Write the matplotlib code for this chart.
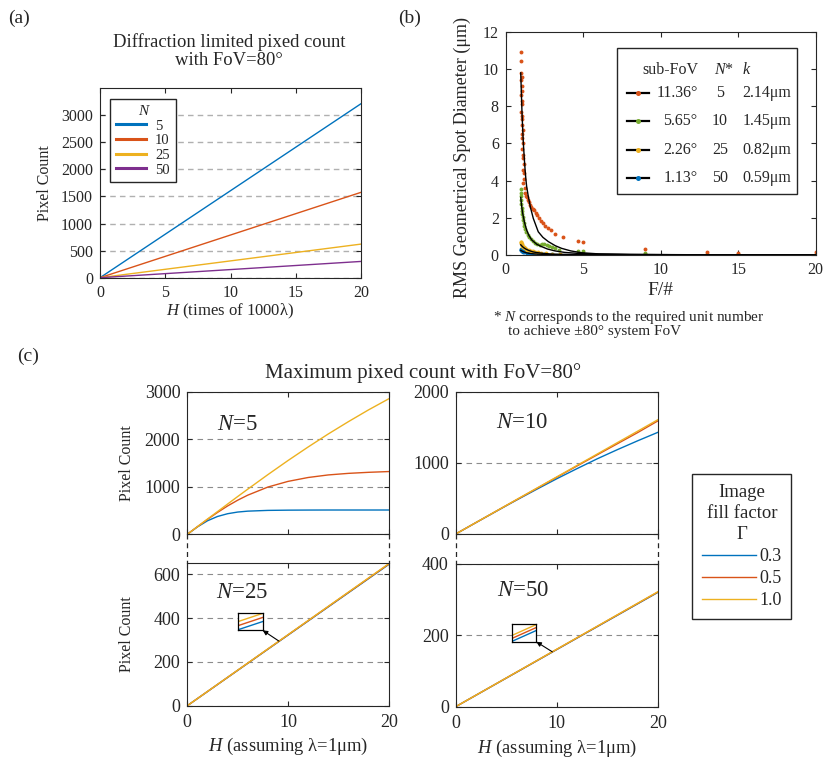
import numpy as np
import matplotlib.pyplot as plt
from matplotlib.lines import Line2D
from matplotlib.patches import Rectangle

# (a) diffraction limited pixel count, straight lines in H
a_H = [0, 20]
a_N = [5, 10, 25, 50]
a_pix_5 = [0, 3210]
a_pix_10 = [0, 1575]
a_pix_25 = [0, 620]
a_pix_50 = [0, 300]

# (b) RMS spot diameter (um) against F/#, raytrace points and fitted curves
or_F = [1.00, 0.97, 0.98, 1.02, 0.99, 1.04, 1.06, 0.98, 1.02, 1.07,
        0.99, 1.03, 1.08, 1.04, 1.10, 1.02, 1.08, 1.13, 1.05, 1.10,
        1.14, 1.16, 1.09, 1.19, 1.21, 1.13, 1.22, 1.25, 1.30, 1.35,
        1.42, 1.48, 1.56, 1.65, 1.74, 1.83, 1.93, 2.03, 2.14, 2.27,
        2.40, 2.55, 2.70, 2.90, 3.15, 3.70, 4.65, 5.00, 9.00, 13.0,
        15.0, 20.0]
or_D = [10.9, 10.45, 9.8, 9.6, 9.4, 9.1, 8.8, 8.6, 8.3, 8.1,
        7.7, 7.5, 7.3, 7.0, 6.7, 6.5, 6.3, 6.0, 5.7, 5.4,
        5.2, 4.9, 4.6, 4.4, 4.1, 3.9, 3.6, 3.35, 3.2, 3.1,
        2.95, 2.85, 2.7, 2.6, 2.5, 2.4, 2.25, 2.15, 2.0, 1.85,
        1.7, 1.55, 1.45, 1.35, 1.12, 0.98, 0.78, 0.72, 0.3, 0.15,
        0.13, 0.17]
gr_F = [0.96, 0.97, 0.98, 0.99, 1.00, 1.02, 1.04, 1.06, 1.09, 1.12,
        1.16, 1.21, 1.27, 1.34, 1.42, 1.51, 1.62, 1.75, 1.90, 2.05,
        2.20, 2.35, 2.50, 2.65, 2.80, 3.00, 3.20, 3.45, 4.65, 5.00,
        9.00, 13.0, 15.0, 20.0]
gr_D = [3.55, 3.35, 3.15, 2.95, 2.75, 2.55, 2.35, 2.2, 2.05, 1.9,
        1.7, 1.55, 1.4, 1.25, 1.1, 0.98, 0.87, 0.76, 0.65, 0.58,
        0.55, 0.58, 0.58, 0.55, 0.48, 0.42, 0.36, 0.28, 0.2, 0.2,
        0.1, 0.06, 0.05, 0.05]
ye_F = [0.97, 0.98, 1.00, 1.02, 1.05, 1.08, 1.12, 1.17, 1.23, 1.30,
        1.40, 1.50, 1.62, 1.75, 1.90, 2.10, 2.30, 2.60, 3.00, 3.50,
        4.65, 5.00, 9.00, 13.0, 15.0, 20.0]
ye_D = [0.72, 0.68, 0.62, 0.58, 0.53, 0.49, 0.45, 0.41, 0.37, 0.33,
        0.29, 0.26, 0.23, 0.20, 0.18, 0.15, 0.13, 0.10, 0.08, 0.06,
        0.05, 0.05, 0.03, 0.02, 0.02, 0.02]
bl_F = [0.97, 0.98, 1.00, 1.02, 1.05, 1.09, 1.14, 1.20, 1.28, 1.38,
        1.50, 1.65, 1.85, 2.10, 2.50, 3.00, 4.65, 5.00, 9.00, 13.0,
        15.0, 20.0]
bl_D = [0.32, 0.29, 0.26, 0.24, 0.22, 0.20, 0.18, 0.16, 0.14, 0.12,
        0.10, 0.085, 0.07, 0.06, 0.05, 0.04, 0.03, 0.03, 0.02, 0.01,
        0.01, 0.01]

fit_or_F = [0.97, 1.00, 1.05, 1.10, 1.14, 1.20, 1.25, 1.30, 1.35, 1.46,
            1.60, 1.78, 2.10, 2.40, 2.75, 3.20, 3.60, 4.20, 4.90, 6.0,
            8.0, 11.0, 15.0, 20.0]
fit_or_D = [9.8, 9.0, 7.7, 6.7, 6.0, 5.2, 4.6, 4.1, 3.7, 3.14,
            2.55, 1.97, 1.25, 0.95, 0.72, 0.5, 0.36, 0.22, 0.12, 0.06,
            0.03, 0.015, 0.01, 0.01]
fit_gr_F = [0.97, 1.00, 1.05, 1.10, 1.14, 1.20, 1.27, 1.35, 1.50, 1.68,
            2.00, 2.32, 2.70, 3.18, 3.80, 4.60, 6.0, 8.0, 12.0, 20.0]
fit_gr_D = [3.1, 2.85, 2.5, 2.22, 2.06, 1.8, 1.58, 1.35, 1.05, 0.81,
            0.58, 0.45, 0.32, 0.22, 0.14, 0.09, 0.05, 0.03, 0.015, 0.01]
fit_ye_F = [0.97, 1.05, 1.15, 1.3, 1.5, 1.75, 2.0, 2.5, 3.0, 4.0, 6.0, 10.0, 20.0]
fit_ye_D = [0.55, 0.48, 0.40, 0.32, 0.24, 0.17, 0.13, 0.08, 0.05, 0.03, 0.015, 0.01, 0.005]
fit_bl_F = [0.97, 1.05, 1.15, 1.3, 1.5, 1.75, 2.0, 2.5, 3.0, 5.0, 10.0, 20.0]
fit_bl_D = [0.25, 0.21, 0.17, 0.13, 0.09, 0.065, 0.05, 0.03, 0.02, 0.01, 0.005, 0.003]

b_subfov = ['11.36°', '5.65°', '2.26°', '1.13°']
b_N = [5, 10, 25, 50]
b_k = ['2.14μm', '1.45μm', '0.82μm', '0.59μm']

# (c) maximum pixel count against H for three image fill factors
c_H = [0, 1, 2, 3, 4, 5, 6, 8, 10, 12, 14, 16, 18, 20]
c_gamma = [0.3, 0.5, 1.0]
n5_g03 = [0, 155, 284, 375, 433, 468, 487, 503, 508, 510, 511, 511, 511, 511]
n5_g05 = [0, 159, 314, 460, 596, 717, 823, 994, 1113, 1195, 1249, 1282, 1304, 1320]
n5_g10 = [0, 160, 320, 478, 636, 794, 949, 1255, 1552, 1837, 2111, 2370, 2618, 2850]
n10_g03 = [0, 80, 160, 239, 318, 397, 475, 627, 776, 918, 1056, 1185, 1309, 1428]
n10_g05 = [0, 80, 160, 240, 320, 400, 479, 638, 797, 955, 1112, 1268, 1424, 1588]
n10_g10 = [0, 80, 161, 241, 321, 401, 482, 642, 802, 963, 1123, 1284, 1444, 1605]
n25_g03 = [0, 32.2, 64.4, 96.7, 128.9, 161.1, 193.3, 257.8, 322.2, 386.7, 451.1, 515.6, 580.0, 644.5]
n25_g05 = [0, 32.3, 64.6, 96.9, 129.2, 161.6, 193.9, 258.5, 323.1, 387.7, 452.4, 517.0, 581.6, 646.2]
n25_g10 = [0, 32.4, 64.8, 97.2, 129.6, 162.0, 194.4, 259.2, 324.0, 388.8, 453.6, 518.4, 583.2, 648.0]
n50_g03 = [0, 16.01, 32.02, 48.03, 64.04, 80.05, 96.06, 128.08, 160.10, 192.12, 224.14, 256.16, 288.18, 320.2]
n50_g05 = [0, 16.06, 32.11, 48.17, 64.22, 80.28, 96.33, 128.44, 160.55, 192.66, 224.77, 256.88, 288.99, 321.1]
n50_g10 = [0, 16.10, 32.20, 48.30, 64.40, 80.50, 96.60, 128.80, 161.00, 193.20, 225.40, 257.60, 289.80, 322.0]

INK = '#262626'
BLUE, RED, YEL, PUR, GRN = '#0072BD', '#D95319', '#EDB120', '#7E2F8E', '#77AC30'

plt.rcParams.update({
    'font.family': ['Liberation Serif', 'DejaVu Serif'],
    'mathtext.fontset': 'custom',
    'mathtext.rm': 'Liberation Serif',
    'mathtext.it': 'Liberation Serif:italic',
    'text.color': INK,
    'axes.edgecolor': INK,
    'axes.labelcolor': INK,
    'xtick.color': INK,
    'ytick.color': INK,
    'xtick.direction': 'in',
    'ytick.direction': 'in',
    'xtick.top': True,
    'ytick.right': True,
    'axes.linewidth': 0.8,
    'xtick.major.size': 3.5,
    'ytick.major.size': 3.5,
})

W, H = 823, 761
fig = plt.figure(figsize=(W / 100, H / 100), dpi=100)


def add_ax(l, t, r, b):
    return fig.add_axes([l / W, 1 - b / H, (r - l) / W, (b - t) / H])


# ---------------- (a) ----------------
ax = add_ax(100, 88, 361, 277.7)
for pix, c, n in zip([a_pix_5, a_pix_10, a_pix_25, a_pix_50], [BLUE, RED, YEL, PUR], a_N):
    ax.plot(a_H, pix, color=c, lw=1.0, label=str(n))
ax.set_xlim(0, 20)
ax.set_ylim(0, 3500)
ax.set_xticks(range(0, 21, 5))
ax.set_yticks(range(0, 3001, 500))
ax.yaxis.grid(True, ls=(0, (4, 3)), color='#b0b0b0', lw=1.0)
ax.set_axisbelow(True)
ax.tick_params(labelsize=11.5, pad=5)
ax.set_xlabel('$H$ (times of 1000λ)', fontsize=12)
ax.set_ylabel('Pixel Count', fontsize=11.5)
ax.xaxis.set_label_coords(0.5, -0.125)
ax.yaxis.set_label_coords(-0.18, 0.5)
leg = ax.legend(loc='upper left', bbox_to_anchor=(0.038, 0.942), borderaxespad=0,
                fontsize=10.5, title='N', title_fontproperties={'style': 'italic', 'size': 11},
                fancybox=False, framealpha=1, edgecolor=INK, handlelength=2.1,
                labelspacing=0.1, handletextpad=0.6, borderpad=0.4)
leg.get_frame().set_linewidth(1.0)
for ln in leg.get_lines():
    ln.set_linewidth(2.2)
fig.text(229 / W, 1 - 51 / H, 'Diffraction limited pixed count\nwith FoV=80°',
         ha='center', va='center', fontsize=13.4, linespacing=1.1)
fig.text(8 / W, 1 - 18 / H, '(a)', fontsize=14, va='center')

# ---------------- (b) ----------------
ax = add_ax(505.7, 32, 815.7, 255)
for F, D, c in [(bl_F, bl_D, BLUE), (ye_F, ye_D, YEL), (gr_F, gr_D, GRN), (or_F, or_D, RED)]:
    ax.plot(F, D, ls='none', marker='o', ms=2.8, mew=0, color=c)
for F, D in [(fit_or_F, fit_or_D), (fit_gr_F, fit_gr_D), (fit_ye_F, fit_ye_D), (fit_bl_F, fit_bl_D)]:
    ax.plot(F, D, color='k', lw=1.0)
ax.set_xlim(0, 20)
ax.set_ylim(0, 12)
ax.set_xticks(range(0, 21, 5))
ax.set_yticks(range(0, 13, 2))
ax.tick_params(labelsize=11.5, pad=5)
ax.set_xlabel('F/#', fontsize=14)
ax.set_ylabel('RMS Geometrical Spot Diameter (μm)', fontsize=13)
ax.xaxis.set_label_coords(0.5, -0.12)
ax.yaxis.set_label_coords(-0.112, 0.435)

# legend table drawn inside the axes
ax.add_patch(Rectangle((0.36, 0.274), 0.581, 0.654, transform=ax.transAxes,
                       facecolor='white', edgecolor=INK, lw=1.0, zorder=5))
hdr_y = 0.831
ax.text(0.53, hdr_y, 'sub-FoV', transform=ax.transAxes, ha='center', va='center', fontsize=11.5, zorder=6)
ax.text(0.704, hdr_y, '$N$*', transform=ax.transAxes, ha='center', va='center', fontsize=11.5, zorder=6)
ax.text(0.763, hdr_y, '$k$', transform=ax.transAxes, ha='left', va='center', fontsize=11.5, zorder=6)
for row_y, c, fov, n, k in zip([0.726, 0.599, 0.471, 0.347], [RED, GRN, YEL, BLUE], b_subfov, b_N, b_k):
    ax.add_line(Line2D([0.39, 0.463], [row_y, row_y], transform=ax.transAxes, color='k', lw=1.6, zorder=6))
    ax.add_line(Line2D([0.426], [row_y], transform=ax.transAxes, ls='none', marker='o', ms=3.6,
                       mew=0, color=c, zorder=7))
    ax.text(0.619, row_y, fov, transform=ax.transAxes, ha='right', va='center', fontsize=11.5, zorder=6)
    ax.text(0.691, row_y, str(n), transform=ax.transAxes, ha='center', va='center', fontsize=11.5, zorder=6)
    ax.text(0.763, row_y, k, transform=ax.transAxes, ha='left', va='center', fontsize=11.5, zorder=6)

fig.text(493 / W, 1 - 317 / H, '* $N$ corresponds to the required unit number', fontsize=11, va='center')
fig.text(508 / W, 1 - 331 / H, 'to achieve ±80° system FoV', fontsize=11, va='center')
fig.text(398 / W, 1 - 18 / H, '(b)', fontsize=14, va='center')

# ---------------- (c) ----------------
fig.text(17 / W, 1 - 356 / H, '(c)', fontsize=14, va='center')
fig.text(423.5 / W, 1 - 373 / H, 'Maximum pixed count with FoV=80°', fontsize=15, ha='center', va='center')

GCOL = [BLUE, RED, YEL]


def count_panel(ax, curves, ylim, yticks, label, lx, ly, bottom):
    for y, c in zip(curves, GCOL):
        ax.plot(c_H, y, color=c, lw=1.0)
    ax.set_xlim(0, 20)
    ax.set_ylim(*ylim)
    ax.set_xticks([0, 10, 20])
    ax.set_yticks(yticks)
    ax.yaxis.grid(True, ls=(0, (5, 4)), color='#8c8c8c', lw=0.8)
    ax.set_axisbelow(True)
    ax.tick_params(labelsize=13, pad=5)
    ax.tick_params(axis='x', pad=6)
    if not bottom:
        ax.tick_params(labelbottom=False)
    else:
        ax.set_xlabel('$H$ (assuming λ=1μm)', fontsize=13.4)
        ax.xaxis.set_label_coords(0.5, -0.215)
    ax.text(lx, ly, label, transform=ax.transAxes, fontsize=16.4, va='center')


def zoom_box(ax, curves, box, h0, dh, dy, tail_h):
    ins = ax.inset_axes(box, transform=ax.transData)
    for y, c in zip(curves, GCOL):
        ins.plot(c_H, y, color=c, lw=1.0)
    mid = np.interp(h0, c_H, curves[1])
    ins.set_xlim(h0 - dh / 2, h0 + dh / 2)
    ins.set_ylim(mid - dy / 2, mid + dy / 2)
    ins.set_xticks([])
    ins.set_yticks([])
    for s in ins.spines.values():
        s.set_color('k')
        s.set_linewidth(0.9)
    ax.annotate('', xy=(box[0] + box[2], box[1]),
                xytext=(tail_h, np.interp(tail_h, c_H, curves[2])),
                arrowprops=dict(arrowstyle='-|>', color='k', lw=0.8, mutation_scale=7,
                                shrinkA=0, shrinkB=0))


ax_tl = add_ax(187.3, 391.7, 388.7, 534.3)
ax_bl = add_ax(187.3, 563.3, 388.7, 705.7)
ax_tr = add_ax(455.7, 391.7, 657.7, 534.0)
ax_br = add_ax(455.7, 564.0, 657.7, 706.7)

count_panel(ax_tl, [n5_g03, n5_g05, n5_g10], (0, 3000), [0, 1000, 2000, 3000], '$N$=5', 0.149, 0.771, False)
count_panel(ax_tr, [n10_g03, n10_g05, n10_g10], (0, 2000), [0, 1000, 2000], '$N$=10', 0.20, 0.782, False)
count_panel(ax_bl, [n25_g03, n25_g05, n25_g10], (0, 650), [0, 200, 400, 600], '$N$=25', 0.1425, 0.794, True)
count_panel(ax_br, [n50_g03, n50_g05, n50_g10], (0, 400), [0, 200, 400], '$N$=50', 0.206, 0.813, True)
for a in (ax_tl, ax_bl):
    a.set_ylabel('Pixel Count', fontsize=11.5)
    a.yaxis.set_label_coords(-0.26, 0.5)

zoom_box(ax_bl, [n25_g03, n25_g05, n25_g10], [5.06, 344, 2.43, 80.5], 9.1, 0.05, 3.5, 9.1)
zoom_box(ax_br, [n50_g03, n50_g05, n50_g10], [5.54, 182, 2.44, 49], 9.6, 0.1, 2.54, 9.56)

# dashed joins between the broken axes pairs
for top, bot in [(ax_tl, ax_bl), (ax_tr, ax_br)]:
    pt, pb = top.get_position(), bot.get_position()
    for x in (pt.x0, pt.x1):
        fig.add_artist(Line2D([x, x], [pt.y0, pb.y1], transform=fig.transFigure,
                              color=INK, lw=0.9, ls=(0, (4, 3))))

handles = [Line2D([], [], color=c, lw=1.0) for c in GCOL]
leg = fig.legend(handles, [f'{g:.1f}' for g in c_gamma], title='Image\nfill factor\nΓ',
                 loc='upper left', bbox_to_anchor=(692.3 / W, 1 - 474.3 / H), borderaxespad=0,
                 fontsize=13, title_fontsize=13.5, fancybox=False, framealpha=1, edgecolor=INK,
                 handlelength=3.0, handletextpad=0.15, labelspacing=0.28, borderpad=0.55)
leg.get_frame().set_linewidth(1.0)
leg.get_title().set_multialignment('center')
leg.get_title().set_linespacing(1.3)

fig.savefig('out.png', dpi=100)
